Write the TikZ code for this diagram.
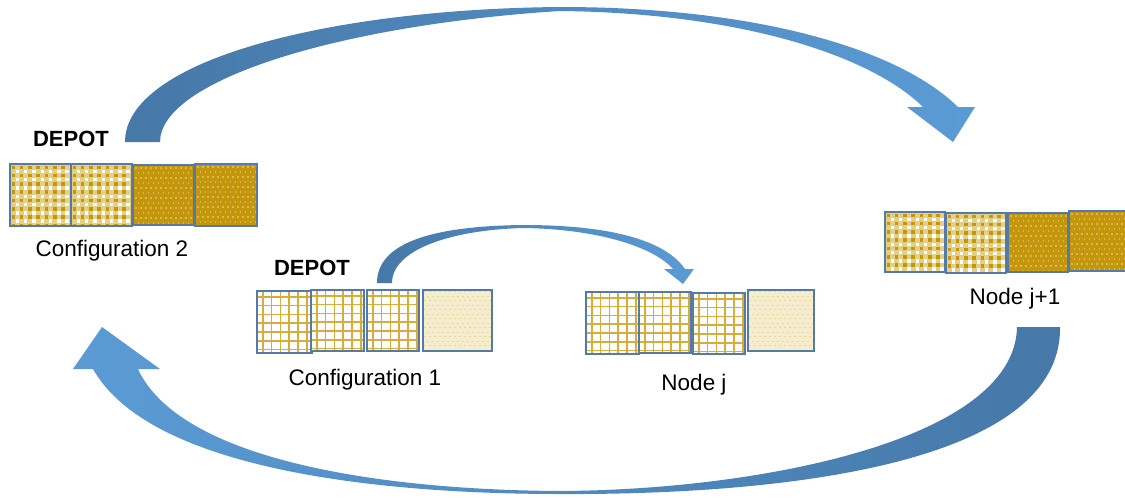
\documentclass[tikz,border=0pt]{standalone}
\usepackage{fontspec}
\setmainfont{Liberation Sans}
\definecolor{arrdark}{RGB}{70,120,168}
\definecolor{arrlight}{RGB}{91,155,213}
\definecolor{sqborder}{RGB}{85,122,165}
\definecolor{golddark}{RGB}{196,150,12}
\definecolor{goldlight}{RGB}{228,207,135}
\definecolor{golddot}{RGB}{218,185,85}
\definecolor{gridgold}{RGB}{214,172,62}
\definecolor{creamfill}{RGB}{246,237,206}
\definecolor{creamdot}{RGB}{230,214,160}
\tikzset{
  sqline/.style={draw=sqborder, line width=1.6pt},
  lbl/.style={font=\fontsize{22.5}{26}\selectfont, inner sep=0pt},
  boldlbl/.style={font=\fontsize{22}{26}\selectfont\bfseries, inner sep=0pt},
}
% gingham square: x, y (top-left), w, h
\newcommand{\gsqr}[4]{%
  \begin{scope}
    \clip (#1,#2) rectangle ++(#3,#4);
    \fill[goldlight] (#1,#2) rectangle ++(#3,#4);
    \foreach \i in {0,...,7}{\foreach \j in {0,...,7}{
      \fill[golddark] ({#1+1.5+8.3*\i},{#2+1.5+8.3*\j}) rectangle ++(3.6,3.6);
      \fill[white] ({#1+5.6+8.3*\i},{#2+5.6+8.3*\j}) rectangle ++(3.4,3.4);
    }}
  \end{scope}
  \draw[sqline] (#1,#2) rectangle ++(#3,#4);}
% dotted dark gold square
\newcommand{\dsqr}[4]{%
  \begin{scope}
    \clip (#1,#2) rectangle ++(#3,#4);
    \fill[golddark] (#1,#2) rectangle ++(#3,#4);
    \foreach \i in {0,...,11}{\foreach \j in {0,...,11}{
      \fill[golddot] ({#1+2+5*\i+mod(\j,2)*2.5},{#2+2+5*\j}) rectangle ++(1.5,1.5);
    }}
  \end{scope}
  \draw[sqline] (#1,#2) rectangle ++(#3,#4);}
% grid square
\newcommand{\rsqr}[4]{%
  \begin{scope}
    \clip (#1,#2) rectangle ++(#3,#4);
    \fill[white] (#1,#2) rectangle ++(#3,#4);
    \foreach \k in {1,...,7}{
      \draw[gridgold, line width=1.5pt] ({#1+8.8*\k-3},#2) -- ++(0,#4);
      \draw[gridgold, line width=1.5pt] (#1,{#2+8.8*\k-3}) -- ++(#3,0);
    }
  \end{scope}
  \draw[sqline] (#1,#2) rectangle ++(#3,#4);}
% cream textured square
\newcommand{\csqr}[4]{%
  \begin{scope}
    \clip (#1,#2) rectangle ++(#3,#4);
    \fill[creamfill] (#1,#2) rectangle ++(#3,#4);
    \foreach \i in {0,...,14}{\foreach \j in {0,...,14}{
      \fill[creamdot] ({#1+1+5*\i+mod(\j,2)*2.5},{#2+1+4.5*\j}) rectangle ++(2,1.4);
    }}
  \end{scope}
  \draw[sqline] (#1,#2) rectangle ++(#3,#4);}
\begin{document}
\begin{tikzpicture}[x=1pt,y=-1pt]
\useasboundingbox (0,0) rectangle (1125,498);

% ---- squares: Configuration 2 ----
\gsqr{10}{164}{61}{62}
\gsqr{71}{164}{61}{62}
\dsqr{133}{165}{61}{60}
\dsqr{195}{164}{62}{62}
% ---- squares: Node j+1 ----
\gsqr{885}{212}{60}{60}
\gsqr{946}{213}{60}{60}
\dsqr{1008}{213}{60}{59}
\dsqr{1069}{211}{62}{60}
% ---- squares: Configuration 1 ----
\rsqr{257}{291}{55}{62}
\rsqr{311}{290}{53}{61}
\rsqr{367}{290}{52}{61}
\csqr{423}{290}{69}{61}
% ---- squares: Node j ----
\rsqr{586}{292}{53}{62}
\rsqr{639}{292}{52}{61}
\rsqr{693}{293}{52}{61}
\csqr{748}{290}{66}{61}

% ---- labels ----
\node[boldlbl] (depotA) at (71,139) {DEPOT};
\node[lbl] (cfgB) at (112,251) {Configuration 2};
\node[boldlbl] (depotB) at (312,268) {DEPOT};
\node[lbl] (cfgA) at (365,380) {Configuration 1};
\node[lbl] (nodej) at (694,385) {Node j};
\node[lbl] (nodejj) at (1015,299) {Node j+1};

% ---- top big arrow (Configuration 2 -> Node j+1) ----
\shade[left color=arrdark, right color=arrlight]
  (125,142) .. controls (125,60) and (330,9) .. (560,7)
  .. controls (760,7) and (900,50) .. (958,107)
  -- (975,107) -- (953,142) -- (907,107) -- (923,107)
  .. controls (870,55) and (740,13) .. (560,11)
  .. controls (340,25) and (160,80) .. (160,142)
  -- cycle;

% ---- bottom big arrow (Node j+1 -> Configuration 2) ----
\shade[left color=arrlight, right color=arrdark]
  (1060,327) .. controls (1062,470) and (760,495) .. (560,494)
  .. controls (380,494) and (150,470) .. (93,369)
  -- (73,369) -- (102,327) -- (160,369) -- (138,369)
  .. controls (180,460) and (380,490) .. (560,491)
  .. controls (760,490) and (1015,440) .. (1017,327)
  -- cycle;

% ---- small arrow (Configuration 1 -> Node j) ----
\shade[left color=arrdark, right color=arrlight]
  (377,283) .. controls (377,240) and (440,226) .. (523,225)
  .. controls (610,225) and (665,240) .. (685,269)
  -- (694,269) -- (683,284) -- (664,269) -- (673,269)
  .. controls (655,248) and (600,229) .. (523,228)
  .. controls (450,230) and (392,250) .. (392,283)
  -- cycle;
\end{tikzpicture}
\end{document}
